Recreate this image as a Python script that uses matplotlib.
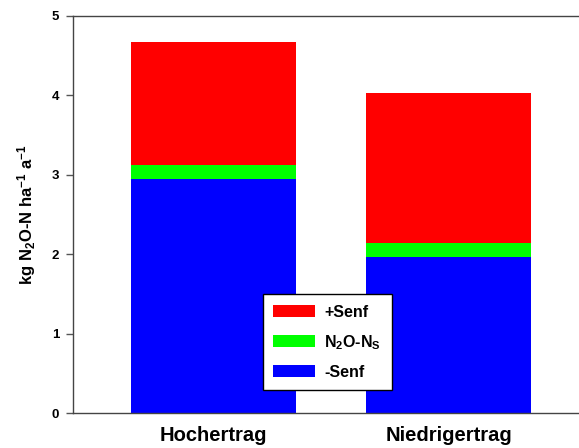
import matplotlib
matplotlib.use("Agg")
import matplotlib.pyplot as plt
from matplotlib.patches import Patch

categories = ['Hochertrag', 'Niedrigertrag']
ohne_senf = [2.95, 1.97]
n2o_ns = [0.17, 0.17]
mit_senf = [1.55, 1.89]
series_labels = ['+Senf', 'N$_2$O-N$_S$', '-Senf']

plt.rcParams['font.family'] = ['Liberation Sans', 'DejaVu Sans']
plt.rcParams['font.weight'] = 'bold'
plt.rcParams['mathtext.fontset'] = 'custom'
plt.rcParams['mathtext.rm'] = 'Liberation Sans:bold'
plt.rcParams['mathtext.it'] = 'Liberation Sans:bold'
plt.rcParams['mathtext.default'] = 'rm'

fig = plt.figure(figsize=(5.79, 4.48), dpi=100)
W, H = 579, 448
ax = fig.add_axes([73 / W, (H - 413) / H, (W - 73) / W, (413 - 16) / H])

x = range(len(categories))
width = 0.702
bottom2 = [a + b for a, b in zip(ohne_senf, n2o_ns)]
ax.bar(x, ohne_senf, width, color='#0000FF', edgecolor='none')
ax.bar(x, n2o_ns, width, bottom=ohne_senf, color='#00FF00', edgecolor='none')
ax.bar(x, mit_senf, width, bottom=bottom2, color='#FF0000', edgecolor='none')

ax.set_xlim(-0.598, 1.555)
ax.set_ylim(0, 5)
ax.set_yticks([0, 1, 2, 3, 4, 5])
ax.set_yticklabels(['0', '1', '2', '3', '4', '5'], fontsize=9.5, fontweight='bold')
ax.set_xticks(list(x))
ax.set_xticklabels(categories, fontsize=14.5, fontweight='bold')
ax.tick_params(axis='x', length=0, pad=9)
ax.tick_params(axis='y', direction='out', length=5, width=1, color='#555555', pad=5)
for s in ax.spines.values():
    s.set_color('#444444')
    s.set_linewidth(1)
ax.spines['right'].set_visible(False)

ax.set_ylabel('kg N$_2$O-N ha$^{-1}$ a$^{-1}$', fontsize=12, fontweight='bold', labelpad=10)

handles = [Patch(facecolor='#FF0000'), Patch(facecolor='#00FF00'), Patch(facecolor='#0000FF')]
leg = ax.legend(handles, series_labels, loc='lower left',
                bbox_to_anchor=((263 - 73) / (W - 73), (413 - 390) / (413 - 16)),
                fontsize=11.5, frameon=True, fancybox=False, framealpha=1,
                edgecolor='black', handlelength=2.6, handleheight=0.8,
                labelspacing=0.82, borderpad=0.65, handletextpad=0.6, borderaxespad=0)
leg.get_frame().set_linewidth(1)
for t in leg.get_texts():
    t.set_fontweight('bold')

fig.savefig('out.png', dpi=100)
